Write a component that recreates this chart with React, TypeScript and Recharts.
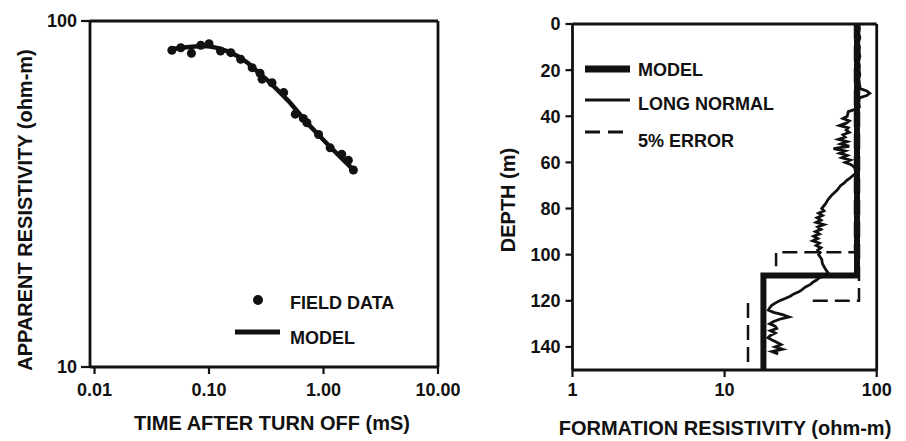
import React from 'react';
import { ScatterChart, Scatter, XAxis, YAxis, Legend } from 'recharts';

const FONT = '"Liberation Sans", Arial, Helvetica, sans-serif';
const INK = '#111';

// ---------- Left chart: apparent resistivity vs time ----------
const fieldTime = [0.0474, 0.0567, 0.0702, 0.0847, 0.1, 0.126, 0.155, 0.189, 0.238, 0.279, 0.291, 0.355, 0.449, 0.567, 0.666, 0.716, 0.905, 1.143, 1.443, 1.647, 1.824];
const fieldRho = [82.3, 83.7, 80.7, 85.1, 86.0, 81.9, 81.0, 77.5, 73.3, 70.6, 67.9, 66.3, 62.1, 53.8, 52.3, 50.8, 47.0, 43.0, 41.2, 39.6, 37.1];
const modelTime = [0.048, 0.06, 0.08, 0.1, 0.12, 0.15, 0.18, 0.22, 0.27, 0.33, 0.4, 0.5, 0.6, 0.75, 0.9, 1.1, 1.4, 1.8];
const modelRho = [83, 83.8, 84.5, 84.5, 83.5, 81.5, 79, 75.5, 71, 67, 63, 58.5, 54.5, 50, 47, 43.8, 40.5, 37.3];
const timeTicks = [0.01, 0.1, 1, 10];
const timeDomain = [0.00913, 10];
const rhoTicks = [10, 100];
const rhoRightTicks = [10, 31, 100];
const leftLegend = ['FIELD DATA', 'MODEL'];

// ---------- Right chart: formation resistivity vs depth ----------
const lnDepth = [0, 2, 4, 6, 8, 10, 12, 14, 16, 18, 20, 22, 24, 26, 28, 29, 30, 31, 32, 34, 36, 37, 38, 40, 41, 42, 43, 44, 45, 46, 47, 48, 49, 50, 51, 52, 53, 54, 55, 56, 57, 58, 59, 60, 61, 62, 63, 64, 65, 66, 67, 68, 69, 70, 72, 74, 76, 78, 80, 81, 82, 83, 84, 85, 86, 87, 88, 89, 90, 91, 92, 93, 94, 95, 96, 97, 98, 99, 100, 102, 104, 106, 108, 109, 110, 111, 112, 113, 114, 115, 116, 117, 118, 119, 120, 121, 122, 123, 124, 125, 126, 127, 128, 129, 130, 131, 132, 133, 134, 135, 136, 137, 138, 139, 140, 141, 142, 143];
const lnRes = [76, 77, 76, 77.5, 76, 77, 76.5, 77.5, 76, 77, 76.5, 77.5, 76, 77, 78, 86, 90, 86, 77, 76, 77, 72, 65, 64, 60, 66, 63, 57, 65, 63, 66, 60, 62, 56, 64, 58, 66, 52, 62, 57, 64, 59, 67, 62, 68, 71, 73, 74, 72, 69, 66, 63, 61, 58, 55, 51, 48, 46, 43.5, 45, 41.5, 44, 40.5, 43, 40, 45, 41, 43, 39.5, 42, 38.5, 41, 38, 42, 40, 43, 41, 42.5, 41.5, 43.5, 44, 45.8, 48, 46, 42, 40.2, 38, 36.5, 34, 32.5, 31, 28.5, 27, 25, 23, 21.5, 20.4, 19.8, 19.4, 21, 24, 26.5, 23, 21, 19.8, 21.5, 22, 20, 21.5, 20, 19.3, 20.5, 22, 23.5, 21.5, 24, 20.5, 22.5];
const modelDepth = [0, 109, 109, 150];
const modelRes = [74.2, 74.2, 18, 18];
const errUpperDepth = [0, 120, 120];
const errUpperRes = [76.5, 76.5, 35.3];
const errLowerDepth = [0, 99, 99, 105];
const errLowerRes = [72, 72, 21.8, 21.8];
const errBaseDepth = [121, 150];
const errBaseRes = [14.25, 14.25];
const resTicks = [1, 10, 100];
const resTopTicks = [1, 10];
const depthTicks = [0, 20, 40, 60, 80, 100, 120, 140];
const depthRightTicks = [10, 30, 50, 70, 90, 110, 130, 150];
const rightLegend = ['MODEL', 'LONG NORMAL', '5% ERROR'];

const zip = (xs: number[], ys: number[], kx: string, ky: string) =>
  xs.map((x, i) => ({ [kx]: x, [ky]: ys[i] }));

const fieldData = zip(fieldTime, fieldRho, 't', 'rho');
const modelData = zip(modelTime, modelRho, 't', 'rho');
const lnData = zip(lnRes, lnDepth, 'r', 'depth');
const modelDepthData = zip(modelRes, modelDepth, 'r', 'depth');
const errUpperData = zip(errUpperRes, errUpperDepth, 'r', 'depth');
const errLowerData = zip(errLowerRes, errLowerDepth, 'r', 'depth');
const errBaseData = zip(errBaseRes, errBaseDepth, 'r', 'depth');

const tickText = { fontFamily: FONT, fontSize: 18, fill: INK, fontWeight: 700 };
const titleProps = { fontFamily: FONT, fontSize: 20, fill: INK, fontWeight: 700 };
const noShape = () => <g />;
const AXW = 2.8;

function LeftLegendContent() {
  return (
    <svg width={460} height={441} style={{ position: 'absolute', left: 0, top: 0 }}>
      <circle cx={258} cy={300} r={5} fill={INK} />
      <text x={290} y={308.5} {...tickText}>{leftLegend[0]}</text>
      <line x1={235} x2={280} y1={332} y2={332} stroke={INK} strokeWidth={5} />
      <text x={290} y={343.5} {...tickText}>{leftLegend[1]}</text>
    </svg>
  );
}

function RightLegendContent() {
  return (
    <svg width={446} height={441} style={{ position: 'absolute', left: 0, top: 0 }}>
      <line x1={125} x2={170} y1={69} y2={69} stroke={INK} strokeWidth={7} />
      <text x={178} y={75.5} {...tickText}>{rightLegend[0]}</text>
      <line x1={125} x2={170} y1={100} y2={100} stroke={INK} strokeWidth={2.8} />
      <text x={178} y={109.5} {...tickText}>{rightLegend[1]}</text>
      <line x1={125} x2={170} y1={132} y2={132} stroke={INK} strokeWidth={2.8} strokeDasharray="15 8" />
      <text x={178} y={146.5} {...tickText}>{rightLegend[2]}</text>
    </svg>
  );
}

function LeftChart() {
  return (
    <ScatterChart width={460} height={441} margin={{ top: 11, right: 10, bottom: 10, left: 20 }}>
      <XAxis
        dataKey="t" type="number" scale="log" domain={timeDomain} allowDataOverflow
        ticks={timeTicks} tickFormatter={(v: number) => v.toFixed(2)}
        height={64} tickSize={7} tickMargin={9} tick={tickText}
        axisLine={{ stroke: INK, strokeWidth: AXW }} tickLine={{ stroke: INK, strokeWidth: 2.2 }}
        label={() => (
          <text x={272} y={430} textAnchor="middle" {...titleProps}>TIME AFTER TURN OFF (mS)</text>
        )}
      />
      <XAxis
        xAxisId="top" orientation="top" dataKey="t" type="number" scale="log" domain={timeDomain} allowDataOverflow
        ticks={timeTicks} height={10} tickSize={8} tick={false}
        axisLine={{ stroke: INK, strokeWidth: AXW }} tickLine={{ stroke: INK, strokeWidth: 2.2 }}
      />
      <YAxis
        dataKey="rho" type="number" scale="log" domain={[10, 100]} allowDataOverflow
        ticks={rhoTicks} width={70} tickSize={9} tickMargin={4} tick={tickText}
        axisLine={{ stroke: INK, strokeWidth: AXW }} tickLine={{ stroke: INK, strokeWidth: 2.2 }}
        label={() => (
          <text x={32} y={210} transform="rotate(-90 32 210)" textAnchor="middle" {...titleProps}>APPARENT RESISTIVITY (ohm-m)</text>
        )}
      />
      <YAxis
        yAxisId="r" orientation="right" dataKey="rho" type="number" scale="log" domain={[10, 100]} allowDataOverflow
        ticks={rhoRightTicks} width={12} tickSize={9} tick={false}
        axisLine={{ stroke: INK, strokeWidth: AXW }} tickLine={{ stroke: INK, strokeWidth: 2.2 }}
      />
      <Scatter name={leftLegend[1]} data={modelData} shape={noShape} line={{ stroke: INK, strokeWidth: 4.5 }} isAnimationActive={false} />
      <Scatter name={leftLegend[0]} data={fieldData} fill={INK} isAnimationActive={false} />
      <Legend
        layout="horizontal" verticalAlign="middle" align="center"
        wrapperStyle={{ left: 0, top: 0, width: 460, height: 441, pointerEvents: 'none' }}
        content={() => <LeftLegendContent />}
      />
    </ScatterChart>
  );
}

function RightChart() {
  return (
    <ScatterChart width={446} height={441} margin={{ top: 14, right: 19.3, bottom: 10, left: 32.5 }}>
      <XAxis
        dataKey="r" type="number" scale="log" domain={[1, 100]} allowDataOverflow
        ticks={resTicks} tickFormatter={(v: number) => String(v)}
        height={61} tickSize={7} tickMargin={6} tick={tickText}
        axisLine={{ stroke: INK, strokeWidth: AXW }} tickLine={{ stroke: INK, strokeWidth: 2.2 }}
        label={() => (
          <text x={265} y={435} textAnchor="middle" {...titleProps}>FORMATION RESISTIVITY (ohm-m)</text>
        )}
      />
      <XAxis
        xAxisId="top" orientation="top" dataKey="r" type="number" scale="log" domain={[1, 100]} allowDataOverflow
        ticks={resTopTicks} height={10} tickSize={8} tick={false}
        axisLine={{ stroke: INK, strokeWidth: AXW }} tickLine={{ stroke: INK, strokeWidth: 2.2 }}
      />
      <YAxis
        dataKey="depth" type="number" domain={[0, 150]} reversed allowDataOverflow
        ticks={depthTicks} width={80} tickSize={7} tickMargin={5} tick={tickText}
        axisLine={{ stroke: INK, strokeWidth: AXW }} tickLine={{ stroke: INK, strokeWidth: 2.2 }}
        label={() => (
          <text x={55} y={200} transform="rotate(-90 55 200)" textAnchor="middle" {...titleProps}>DEPTH (m)</text>
        )}
      />
      <YAxis
        yAxisId="r" orientation="right" dataKey="depth" type="number" domain={[0, 150]} reversed allowDataOverflow
        ticks={depthRightTicks} width={10} tickSize={8} tick={false}
        axisLine={{ stroke: INK, strokeWidth: AXW }} tickLine={{ stroke: INK, strokeWidth: 2.2 }}
      />
      <Scatter name={rightLegend[2]} data={errUpperData} shape={noShape} line={{ stroke: INK, strokeWidth: 2.5, strokeDasharray: '15 7' }} isAnimationActive={false} />
      <Scatter name="err-low" data={errLowerData} shape={noShape} line={{ stroke: INK, strokeWidth: 2.5, strokeDasharray: '15 7' }} isAnimationActive={false} />
      <Scatter name="err-base" data={errBaseData} shape={noShape} line={{ stroke: INK, strokeWidth: 2.5, strokeDasharray: '15 7' }} isAnimationActive={false} />
      <Scatter name={rightLegend[0]} data={modelDepthData} shape={noShape} line={{ stroke: INK, strokeWidth: 6 }} isAnimationActive={false} />
      <Scatter name={rightLegend[1]} data={lnData} shape={noShape} line={{ stroke: INK, strokeWidth: 2.8 }} isAnimationActive={false} />
      <Legend
        layout="horizontal" verticalAlign="middle" align="center"
        wrapperStyle={{ left: 0, top: 0, width: 446, height: 441, pointerEvents: 'none' }}
        content={() => <RightLegendContent />}
      />
    </ScatterChart>
  );
}

export default function App() {
  return (
    <div style={{ position: 'absolute', left: 0, top: 0, width: 906, height: 441, background: '#fff', overflow: 'hidden' }}>
      <div style={{ position: 'absolute', left: 0, top: 0 }}>
        <LeftChart />
      </div>
      <div style={{ position: 'absolute', left: 460, top: 0 }}>
        <RightChart />
      </div>
    </div>
  );
}
